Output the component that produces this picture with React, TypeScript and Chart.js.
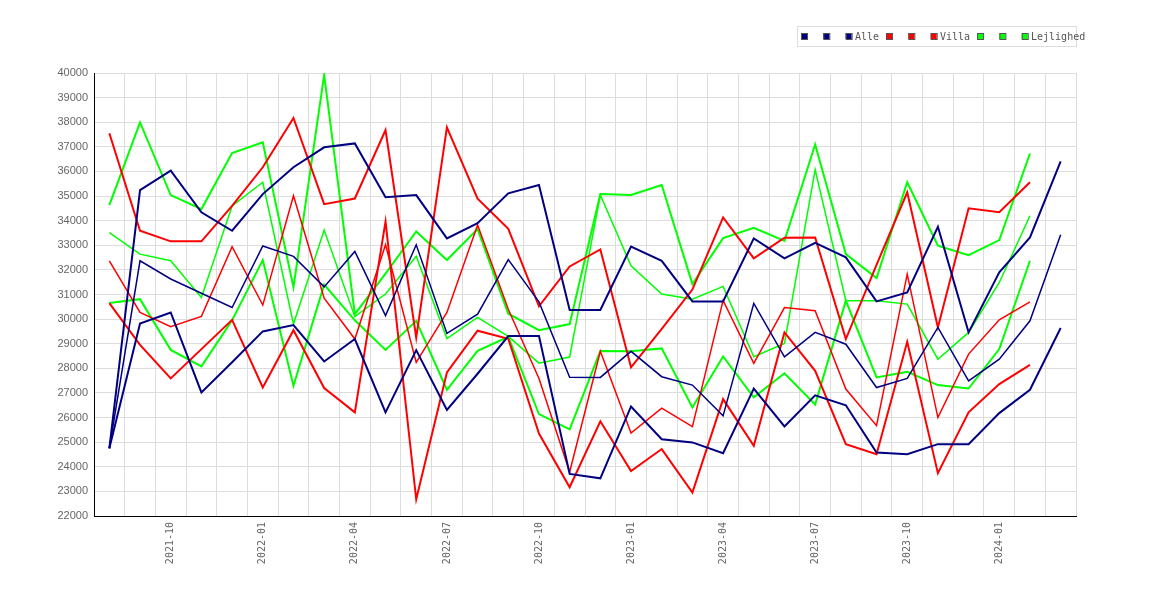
import { useEffect, useRef } from "react";
import { Chart, registerables } from "chart.js";

Chart.register(...registerables);

const months = [
  "2021-08", "2021-09", "2021-10", "2021-11", "2021-12",
  "2022-01", "2022-02", "2022-03", "2022-04", "2022-05", "2022-06",
  "2022-07", "2022-08", "2022-09", "2022-10", "2022-11", "2022-12",
  "2023-01", "2023-02", "2023-03", "2023-04", "2023-05", "2023-06",
  "2023-07", "2023-08", "2023-09", "2023-10", "2023-11", "2023-12",
  "2024-01", "2024-02", "2024-03",
];

const alleHigh = [24750, 35240, 36030, 34340, 33590, 35080, 36170, 36980, 37140, 34950, 35040, 33280, 33900, 35110, 35450, 30370, 30370, 32950, 32370, 30720, 30720, 33280, 32470, 33100, 32510, 30720, 31080, 33750, 29460, 31900, 33320, 36410];
const alleMid = [24750, 32370, 31630, 31050, 30470, 32970, 32550, 31310, 32750, 30140, 33020, 29420, 30200, 32420, 30700, 27640, 27630, 28690, 27660, 27320, 26070, 30640, 28470, 29460, 28980, 27220, 27590, 29660, 27490, 28370, 29930, 33430];
const alleLow = [24750, 29820, 30270, 27020, 28250, 29500, 29760, 28280, 29190, 26210, 28740, 26310, 27780, 29310, 29310, 23710, 23530, 26450, 25120, 24990, 24550, 27180, 25640, 26900, 26500, 24580, 24510, 24920, 24920, 26180, 27130, 29640];

const villaHigh = [37550, 33590, 33160, 33160, 34600, 36170, 38170, 34670, 34900, 37680, 29250, 37790, 34890, 33670, 30520, 32140, 32830, 28040, 29600, 31200, 34130, 32470, 33310, 33320, 29190, 32200, 35150, 29660, 34500, 34340, 35560, null];
const villaMid = [32370, 30270, 29690, 30110, 32940, 30570, 35010, 30850, 29190, 33020, 28240, 30270, 33820, 30400, 27590, 23790, 28690, 25370, 26380, 25630, 30760, 28200, 30470, 30340, 27160, 25670, 31830, 26000, 28580, 29970, 30700, null];
const villaLow = [30650, 28950, 27590, 28780, 29970, 27220, 29550, 27200, 26210, 33970, 22680, 27830, 29530, 29200, 25350, 23170, 25850, 23830, 24720, 22950, 26750, 24850, 29460, 27900, 24920, 24510, 29080, 23740, 26210, 27360, 28140, null];

const lejlHigh = [34630, 37990, 35040, 34470, 36750, 37180, 31290, 39920, 30200, 31850, 33560, 32400, 33660, 30220, 29550, 29800, 35080, 35040, 35450, 31420, 33290, 33710, 33180, 37100, 32640, 31670, 35560, 32980, 32600, 33210, 36730, null];
const lejlMid = [33510, 32640, 32370, 30880, 34600, 35560, 29800, 33620, 30100, 31020, 32550, 29210, 30070, 29300, 28210, 28460, 35040, 32170, 31020, 30810, 31330, 28470, 29010, 36070, 30750, 30750, 30610, 28370, 29460, 31490, 34200, null];
const lejlLow = [30650, 30810, 28750, 28080, 29950, 32400, 27290, 31400, 29950, 28750, 29930, 27130, 28710, 29280, 26140, 25520, 28700, 28690, 28810, 26410, 28480, 26820, 27800, 26530, 30750, 27630, 27860, 27320, 27180, 28780, 32370, null];

const NAVY = "#000080";
const RED = "#ff0000";
const GREEN = "#00ff00";

const line = (label: string, data: (number | null)[], color: string, width: number) => ({
  label,
  data,
  borderColor: color,
  backgroundColor: color,
  borderWidth: width,
  pointRadius: 0,
  tension: 0,
  fill: false,
});

// legend drawn by hand so it can sit in its own box above the plot
const boxLegend = {
  id: "boxLegend",
  afterDraw(chart: any) {
    const { ctx, chartArea } = chart;
    const left = 797;
    const top = 26;
    ctx.save();
    ctx.strokeStyle = "#dddddd";
    ctx.lineWidth = 1;
    ctx.strokeRect(left + 0.5, top + 0.5, chartArea.right - left, 20);
    ctx.font = '10px "DejaVu Sans Mono", monospace';
    ctx.textBaseline = "middle";
    let x = left + 4;
    chart.data.datasets.forEach((ds: any) => {
      ctx.fillStyle = ds.borderColor;
      ctx.fillRect(x, 33, 6, 6);
      ctx.strokeStyle = "#555555";
      ctx.strokeRect(x + 0.5, 33.5, 6, 6);
      ctx.fillStyle = "#555555";
      const tx = x + 9.3;
      ctx.fillText(ds.label, tx, 37);
      x = tx + ctx.measureText(ds.label).width + 7;
    });
    ctx.restore();
  },
};

const App = () => {
  const chartRef = useRef<HTMLCanvasElement | null>(null);

  useEffect(() => {
    document.body.style.margin = "0";
    const ctx = chartRef.current?.getContext("2d");
    if (!ctx) return;

    const chart = new Chart(ctx, {
      type: "line",
      data: {
        labels: months,
        datasets: [
          line(" ", alleHigh, NAVY, 2),
          line(" ", alleLow, NAVY, 2),
          line("Alle", alleMid, NAVY, 1.5),
          line(" ", villaHigh, RED, 2),
          line(" ", villaLow, RED, 2),
          line("Villa", villaMid, RED, 1.5),
          line(" ", lejlHigh, GREEN, 2),
          line(" ", lejlLow, GREEN, 2),
          line("Lejlighed", lejlMid, GREEN, 1.5),
        ],
      },
      options: {
        responsive: true,
        maintainAspectRatio: false,
        animation: false,
        layout: { padding: { top: 73, right: 94, left: 0, bottom: 0 } },
        plugins: {
          legend: { display: false },
          tooltip: { enabled: false },
        },
        scales: {
          x: {
            offset: true,
            grid: { offset: true, color: "#dddddd", drawTicks: false },
            border: { color: "#000000", width: 1 },
            afterFit: (scale: any) => {
              scale.height = 84;
            },
            ticks: {
              autoSkip: false,
              minRotation: 90,
              maxRotation: 90,
              padding: 6,
              color: "#666666",
              font: { family: '"DejaVu Sans Mono", monospace', size: 10 },
              callback: (_v: any, i: number) => {
                const m = months[i].slice(5);
                return ["01", "04", "07", "10"].includes(m) ? months[i] : "";
              },
            },
          },
          y: {
            min: 22000,
            max: 40000,
            grid: { color: "#dddddd", drawTicks: false },
            border: { color: "#000000", width: 1 },
            afterFit: (scale: any) => {
              scale.width = 94;
            },
            ticks: {
              stepSize: 1000,
              padding: 6,
              color: "#666666",
              font: { family: '"Liberation Sans", Arial, sans-serif', size: 11 },
              callback: (v: any) => String(v),
            },
          },
        },
      },
      plugins: [boxLegend],
    });

    return () => {
      chart.destroy();
    };
  }, []);

  return (
    <div style={{ width: 1170, height: 600, position: "relative", background: "#fff" }}>
      <canvas ref={chartRef}></canvas>
    </div>
  );
};

export default App;
